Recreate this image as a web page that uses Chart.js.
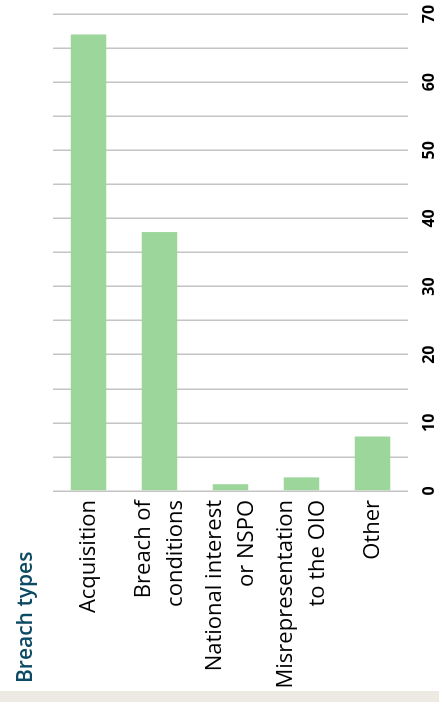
<!DOCTYPE html>
<html>
<head>
<meta charset="utf-8">
<script src="https://cdn.jsdelivr.net/npm/chart.js@4/dist/chart.umd.min.js"></script>
<style>
  html, body { margin: 0; padding: 0; background: #ffffff; }
  body { width: 439px; height: 702px; position: relative; overflow: hidden; }
  #band { position: absolute; left: 0; top: 691px; width: 439px; height: 11px; background: #edeae4; }
  #wrap {
    position: absolute; left: 0; top: 0;
    width: 702px; height: 439px;
    transform-origin: 0 0;
    transform: translate(0, 702px) rotate(-90deg);
  }
  #c { display: block; }
</style>
</head>
<body>
<div id="band"></div>
<div id="wrap"><canvas id="c" width="702" height="439"></canvas></div>
<script>
const categories = [
  "Acquisition",
  ["Breach of", "conditions"],
  ["National interest", "or NSPO"],
  ["Misrepresentation", "to the OIO"],
  "Other"
];
const counts = [67, 38, 1, 2, 8];
const valueTicks = [0, 10, 20, 30, 40, 50, 60, 70];
const axisTitle = "Breach types";

// Category-axis title drawn in the top-left corner (before the chart is rotated)
const axisTitlePlugin = {
  id: 'axisTitle',
  afterDraw(chart) {
    const c = chart.ctx;
    c.save();
    c.font = '600 21px "Open Sans"';
    c.fillStyle = '#0d4a63';
    c.textAlign = 'left';
    c.textBaseline = 'middle';
    c.fillText(axisTitle, 19, 26);
    c.restore();
  }
};

const ctx = document.getElementById('c');
new Chart(ctx, {
  type: 'bar',
  data: {
    labels: categories,
    datasets: [{
      data: counts,
      backgroundColor: '#9dd69b',
      borderWidth: 0,
      categoryPercentage: 1.0,
      barPercentage: 0.5
    }]
  },
  plugins: [axisTitlePlugin],
  options: {
    indexAxis: 'y',
    responsive: false,
    maintainAspectRatio: false,
    animation: false,
    layout: { padding: { left: 10, right: 14, top: 53, bottom: 0 } },
    plugins: {
      legend: { display: false },
      tooltip: { enabled: false },
      title: { display: false }
    },
    scales: {
      x: {
        min: 0,
        max: 70,
        ticks: {
          stepSize: 5,
          autoSkip: false,
          maxRotation: 0,
          color: '#000000',
          padding: 12,
          font: { family: 'Open Sans', size: 16, weight: 'bold' },
          callback: (v) => valueTicks.includes(v) ? String(v) : ''
        },
        grid: { color: '#c4c4c4', lineWidth: 1.5, drawTicks: false },
        border: { display: false },
        afterFit: (scale) => {
          scale.height = 31;
          scale.paddingLeft = 0;
          scale.paddingRight = 0;
        }
      },
      y: {
        ticks: {
          color: '#000000',
          padding: 9,
          font: { family: 'Open Sans', size: 22, lineHeight: 1.45 }
        },
        grid: { display: false, drawTicks: false },
        border: { display: false },
        afterFit: (scale) => {
          scale.width = 201;
          scale.paddingTop = 0;
          scale.paddingBottom = 0;
        }
      }
    }
  }
});
</script>
</body>
</html>
